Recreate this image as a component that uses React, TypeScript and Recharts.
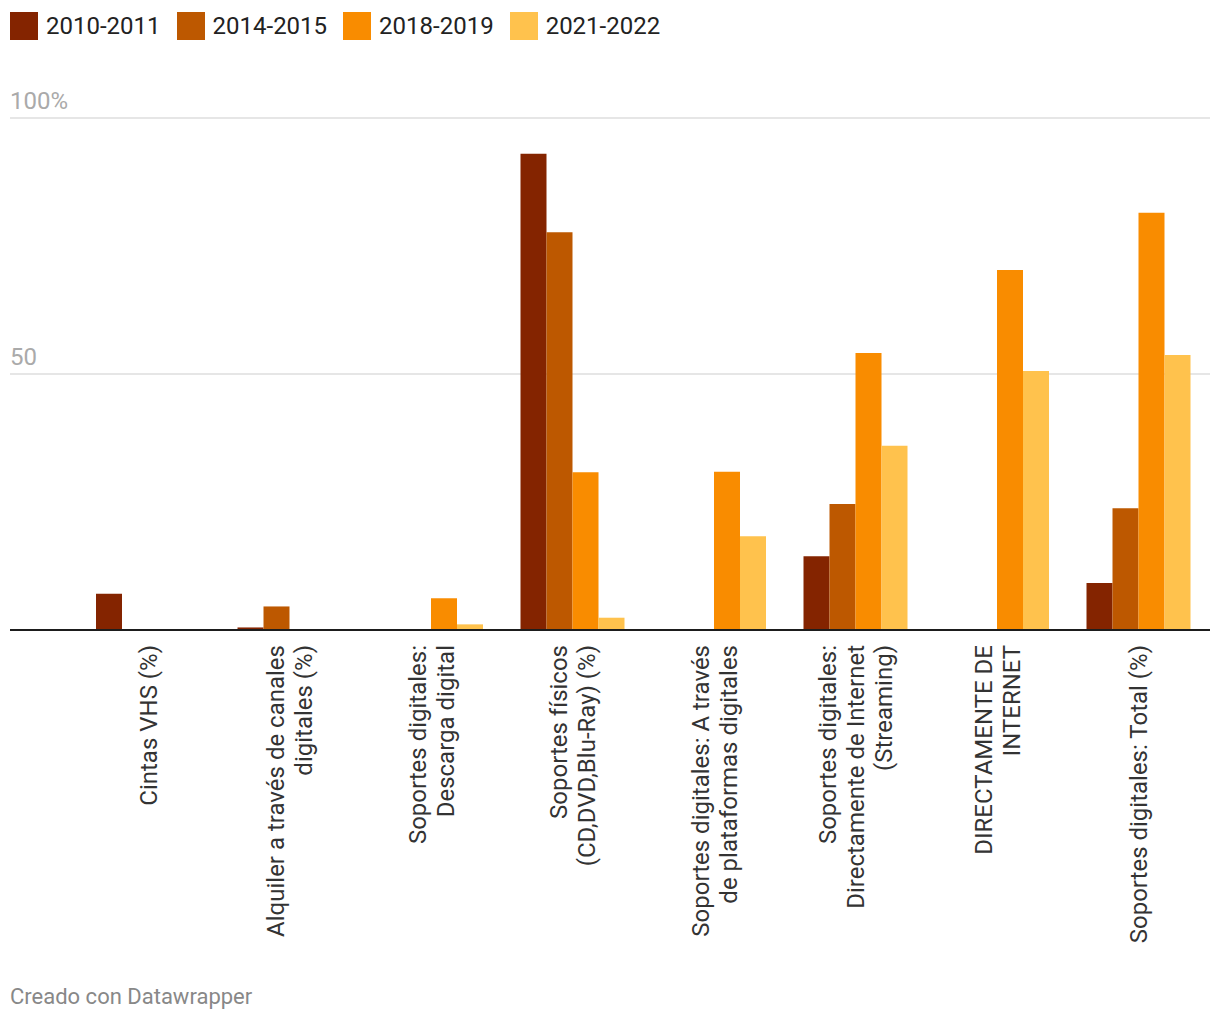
import React from 'react';
import { Bar, BarChart, CartesianGrid, ReferenceLine, XAxis, YAxis } from 'recharts';

const categories = [
  'Cintas VHS (%)',
  'Alquiler a través de canales\ndigitales (%)',
  'Soportes digitales:\nDescarga digital',
  'Soportes físicos\n(CD,DVD,Blu-Ray) (%)',
  'Soportes digitales: A través\nde plataformas digitales',
  'Soportes digitales:\nDirectamente de Internet\n(Streaming)',
  'DIRECTAMENTE DE\nINTERNET',
  'Soportes digitales: Total (%)',
];

const s2010 = [7.1, 0.5, null, 93.0, null, 14.4, null, 9.2];
const s2014 = [null, 4.6, null, 77.7, null, 24.6, null, 23.8];
const s2018 = [null, null, 6.2, 30.8, 30.9, 54.1, 70.3, 81.5];
const s2021 = [null, null, 1.1, 2.4, 18.3, 36.0, 50.6, 53.7];

const seriesNames = ['2010-2011', '2014-2015', '2018-2019', '2021-2022'];
const seriesColors = ['#842400', '#bd5800', '#f98c00', '#ffc24d'];
const yTicks = [0, 50, 100];
const yLabels = [
  { value: 50, text: '50' },
  { value: 100, text: '100%' },
];

const data = categories.map((name, i) => ({
  name,
  a: s2010[i],
  b: s2014[i],
  c: s2018[i],
  d: s2021[i],
}));

const FONT = 'Roboto, "Noto Sans", sans-serif';

const CategoryTick = (props: any) => {
  const { x, payload } = props;
  const lines = String(payload.value).split('\n');
  const lh = 28;
  return (
    <g transform={`translate(${x},645)`}>
      <text transform="rotate(-90)" textAnchor="end" fontSize={24} fill="#333" fontFamily={FONT}>
        {lines.map((line, i) => (
          <tspan key={i} x={0} y={(i - (lines.length - 1) / 2) * lh} dominantBaseline="central">
            {line}
          </tspan>
        ))}
      </text>
    </g>
  );
};

const GridLabel = (text: string) => (props: any) => {
  const { viewBox } = props;
  return (
    <text x={viewBox.x} y={viewBox.y - 9} fontSize={24} fill="#aaa" fontFamily={FONT}>
      {text}
    </text>
  );
};

export default function App() {
  return (
    <div style={{ position: 'absolute', left: 0, top: 0, width: 1220, height: 1020, background: '#fff', fontFamily: FONT }}>
      <div style={{ position: 'absolute', left: 10, top: 12, display: 'flex', alignItems: 'center' }}>
        {seriesNames.map((n, i) => (
          <div key={n} style={{ display: 'flex', alignItems: 'center', marginRight: 16 }}>
            <div style={{ width: 28, height: 28, background: seriesColors[i], marginRight: 8 }} />
            <span style={{ fontSize: 24, color: '#222', lineHeight: '28px' }}>{n}</span>
          </div>
        ))}
      </div>
      <div style={{ position: 'absolute', left: 0, top: 0 }}>
        <BarChart
          width={1220}
          height={970}
          data={data}
          margin={{ top: 118, right: 10, bottom: 0, left: 10 }}
          barCategoryGap={18}
          barGap={0}
        >
          <CartesianGrid horizontal vertical={false} stroke="#e6e6e6" strokeWidth={2} />
          <YAxis domain={[0, 100]} ticks={yTicks} width={0} hide />
          <XAxis
            dataKey="name"
            height={340}
            padding={{ left: 68, right: 0 }}
            axisLine={{ stroke: '#1d1d1d', strokeWidth: 2 }}
            tickLine={false}
            interval={0}
            tick={<CategoryTick />}
          />
          {yLabels.map(l => (
            <ReferenceLine key={l.value} y={l.value} stroke="none" label={GridLabel(l.text)} />
          ))}
          <Bar dataKey="a" fill={seriesColors[0]} isAnimationActive={false} />
          <Bar dataKey="b" fill={seriesColors[1]} isAnimationActive={false} />
          <Bar dataKey="c" fill={seriesColors[2]} isAnimationActive={false} />
          <Bar dataKey="d" fill={seriesColors[3]} isAnimationActive={false} />
        </BarChart>
      </div>
      <div style={{ position: 'absolute', left: 10, top: 984, fontSize: 22, color: '#888' }}>Creado con Datawrapper</div>
    </div>
  );
}
